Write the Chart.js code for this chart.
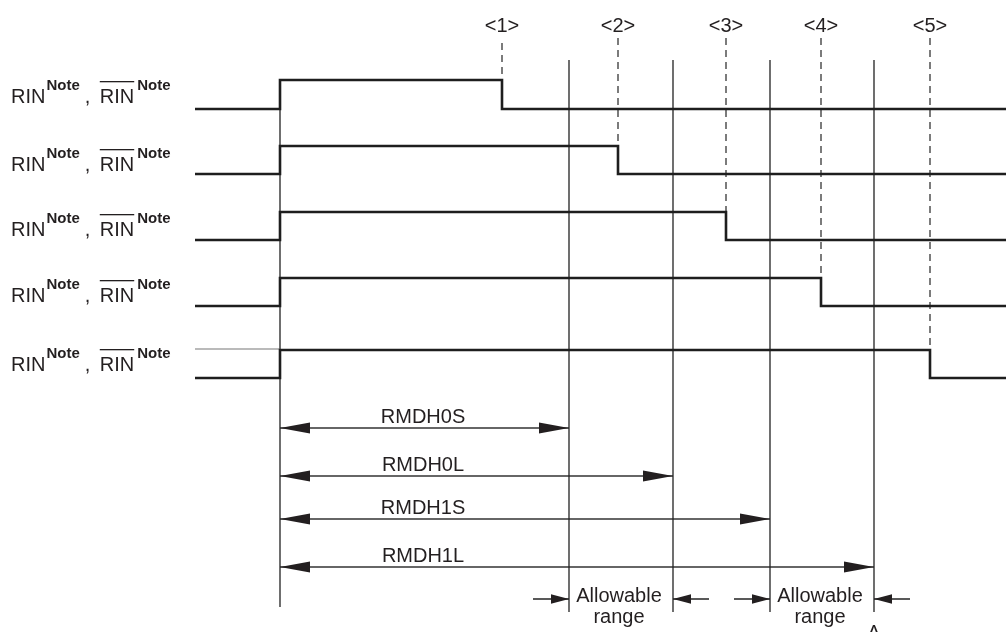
<!DOCTYPE html>
<html>
<head>
<meta charset="utf-8">
<script src="https://cdn.jsdelivr.net/npm/chart.js@4/dist/chart.umd.min.js"></script>
<style>
  html, body { margin: 0; padding: 0; background: #fff; }
  #wrap { width: 1006px; height: 632px; }
</style>
</head>
<body>
<div id="wrap"><canvas id="chart" width="1006" height="632"></canvas></div>
<script>
// timing values (time units, rise edge at 0)
const signalNames = ['<1>', '<2>', '<3>', '<4>', '<5>'];
const riseTime = 0;
const fallTimes = [22.2, 33.8, 44.6, 54.1, 65.0];
const limitNames = ['RMDH0S', 'RMDH0L', 'RMDH1S', 'RMDH1L'];
const limitTimes = [28.9, 39.3, 49.0, 59.4];
const rangeText = ['Allowable', 'range'];
const traceStart = -8.5;
const traceEnd = 72.6;

// layout (vertical positions on the y scale, top = 0)
const rowHigh = [80, 146, 212, 278, 350];
const rowLow = [109, 174, 240, 306, 378];
const rowTextY = [103, 171, 236, 302, 371];
const arrowY = [428, 476, 519, 567];
const rangeArrowY = 599;

const INK = '#231f20';
const FONT = '"Liberation Sans", Arial, Helvetica, sans-serif';

function seg(points, width, color, dash) {
  return {
    data: points,
    showLine: true,
    borderColor: color,
    borderWidth: width,
    borderDash: dash || [],
    pointRadius: 0,
    borderJoinStyle: 'miter',
    borderCapStyle: 'butt',
    fill: false
  };
}

const datasets = [];

// waveforms
fallTimes.forEach((t, i) => {
  datasets.push(seg([
    { x: traceStart, y: rowLow[i] },
    { x: riseTime, y: rowLow[i] },
    { x: riseTime, y: rowHigh[i] },
    { x: t, y: rowHigh[i] },
    { x: t, y: rowLow[i] },
    { x: traceEnd, y: rowLow[i] }
  ], 2.6, '#1e1e1e'));
});
// faint line before last rise
datasets.push(seg([{ x: traceStart, y: rowHigh[4] - 1 }, { x: riseTime, y: rowHigh[4] - 1 }], 1.2, '#777'));

// dashed markers at each fall edge
fallTimes.forEach((t, i) => {
  datasets.push(seg([{ x: t, y: i === 0 ? 43 : 38 }, { x: t, y: rowLow[i] }], 1.4, '#444', [7, 5]));
});

// limit lines and reference line
limitTimes.forEach(t => datasets.push(seg([{ x: t, y: 60 }, { x: t, y: 612 }], 1.3, '#222')));
datasets.push(seg([{ x: riseTime, y: rowHigh[0] }, { x: riseTime, y: 607 }], 1.3, '#222'));

// measurement arrows (shafts)
limitTimes.forEach((t, i) => datasets.push(seg([{ x: riseTime, y: arrowY[i] }, { x: t, y: arrowY[i] }], 1.3, '#333')));

// allowable range arrows (shafts)
const rangePairs = [[limitTimes[0], limitTimes[1]], [limitTimes[2], limitTimes[3]]];
rangePairs.forEach(([lo, hi]) => {
  datasets.push(seg([{ x: lo - 3.6, y: rangeArrowY }, { x: lo, y: rangeArrowY }], 1.3, '#222'));
  datasets.push(seg([{ x: hi, y: rangeArrowY }, { x: hi + 3.6, y: rangeArrowY }], 1.3, '#222'));
});

function head(ctx, tipX, y, dir, len, half) {
  ctx.beginPath();
  ctx.moveTo(tipX, y);
  ctx.lineTo(tipX - dir * len, y - half);
  ctx.lineTo(tipX - dir * len, y + half);
  ctx.closePath();
  ctx.fill();
}

function drawRowLabel(ctx, x, y) {
  const main = '20px ' + FONT;
  const sup = 'bold 15px ' + FONT;
  ctx.textAlign = 'left';
  ctx.textBaseline = 'alphabetic';
  ctx.font = main;
  ctx.fillText('RIN', x, y);
  let cx = x + ctx.measureText('RIN').width + 1;
  ctx.font = sup;
  ctx.fillText('Note', cx, y - 13);
  cx += ctx.measureText('Note').width + 5;
  ctx.font = main;
  ctx.fillText(',', cx, y);
  cx += 15;
  const w = ctx.measureText('RIN').width;
  ctx.fillText('RIN', cx, y);
  ctx.fillRect(cx, y - 22, w, 1.3);
  cx += w + 3;
  ctx.font = sup;
  ctx.fillText('Note', cx, y - 13);
}

const annotations = {
  id: 'annotations',
  afterDatasetsDraw(chart) {
    const ctx = chart.ctx;
    const xs = chart.scales.x, ys = chart.scales.y;
    ctx.save();
    ctx.fillStyle = INK;

    // signal numbers
    ctx.font = '20px ' + FONT;
    ctx.textAlign = 'center';
    ctx.textBaseline = 'middle';
    signalNames.forEach((s, i) => ctx.fillText(s, xs.getPixelForValue(fallTimes[i]), ys.getPixelForValue(26)));

    // row labels
    rowTextY.forEach(y => drawRowLabel(ctx, 11, ys.getPixelForValue(y)));

    // measurement arrows heads + names
    const x0 = xs.getPixelForValue(riseTime);
    limitTimes.forEach((t, i) => {
      const y = ys.getPixelForValue(arrowY[i]);
      const x1 = xs.getPixelForValue(t);
      head(ctx, x0, y, -1, 30, 5.5);
      head(ctx, x1, y, 1, 30, 5.5);
      ctx.font = '20px ' + FONT;
      ctx.textAlign = 'center';
      ctx.textBaseline = 'alphabetic';
      ctx.fillText(limitNames[i], xs.getPixelForValue(14.3), y - 5);
    });

    // allowable range
    const ry = ys.getPixelForValue(rangeArrowY);
    rangePairs.forEach(([lo, hi]) => {
      const a = xs.getPixelForValue(lo), b = xs.getPixelForValue(hi);
      head(ctx, a, ry, 1, 18, 4.8);
      head(ctx, b, ry, -1, 18, 4.8);
      ctx.font = '20px ' + FONT;
      ctx.textAlign = 'center';
      ctx.textBaseline = 'alphabetic';
      ctx.fillText(rangeText[0], (a + b) / 2 - 2, ry + 3);
      ctx.fillText(rangeText[1], (a + b) / 2 - 2, ry + 24);
    });

    // small caret under the last limit
    ctx.textBaseline = 'top';
    ctx.font = '20px ' + FONT;
    ctx.fillText('\u039B', xs.getPixelForValue(limitTimes[3]), ys.getPixelForValue(623));
    ctx.restore();
  }
};

new Chart(document.getElementById('chart'), {
  type: 'scatter',
  data: { datasets },
  options: {
    responsive: false,
    devicePixelRatio: 1,
    animation: false,
    layout: { padding: 0 },
    plugins: { legend: { display: false }, tooltip: { enabled: false } },
    scales: {
      x: { type: 'linear', min: -28, max: 72.6, display: false },
      y: { type: 'linear', min: 0, max: 632, reverse: true, display: false }
    }
  },
  plugins: [annotations]
});
</script>
</body>
</html>
